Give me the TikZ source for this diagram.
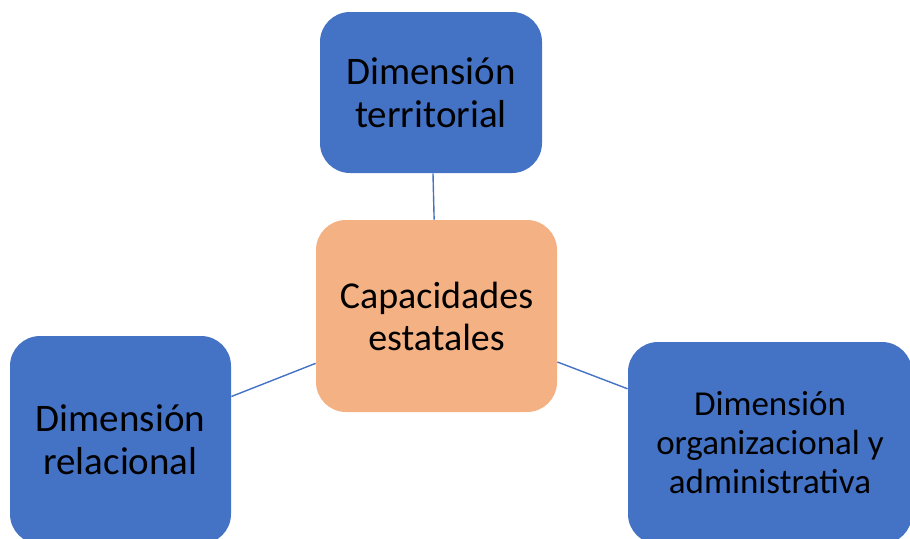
\documentclass[tikz,border=0pt]{standalone}
\usepackage{fontspec}
\setmainfont{Carlito}
\definecolor{dimblue}{HTML}{4472C4}
\definecolor{capaorange}{HTML}{F4B183}
\begin{document}
\begin{tikzpicture}[x=0.5pt,y=-0.5pt,
        dimbox/.style={rounded corners=15pt, fill=dimblue, align=center,
        inner sep=0pt, text=black},
        capbox/.style={rounded corners=15pt, fill=capaorange, align=center,
        inner sep=0pt, text=black,
        font=\fontsize{19}{21}\selectfont},
        link/.style={draw=dimblue, line width=0.7pt}]
        \useasboundingbox (0,0) rectangle (910,538);
        \node[capbox, minimum width=120.5pt, minimum height=96pt]
            (capacidades) at (436.5,316) {Capacidades\\estatales};
        \node[dimbox, minimum width=111pt, minimum height=80.5pt,
            font=\fontsize{19.5}{21.5}\selectfont]
            (territorial) at (431,92.5) {Dimensión\\territorial};
        \node[dimbox, minimum width=110.5pt, minimum height=104pt,
            font=\fontsize{19.5}{21.5}\selectfont]
            (relacional) at (120.5,440) {Dimensión\\relacional};
        \node[dimbox, minimum width=142pt, minimum height=101pt,
            font=\fontsize{17.5}{19.5}\selectfont]
            (organizacional) at (770,443) {Dimensión\\organizacional y\\administrativa};
        \draw[link] (territorial) -- (capacidades);
        \draw[link] (relacional) -- (capacidades);
        \draw[link] (capacidades) -- (organizacional);
\end{tikzpicture}
\end{document}
